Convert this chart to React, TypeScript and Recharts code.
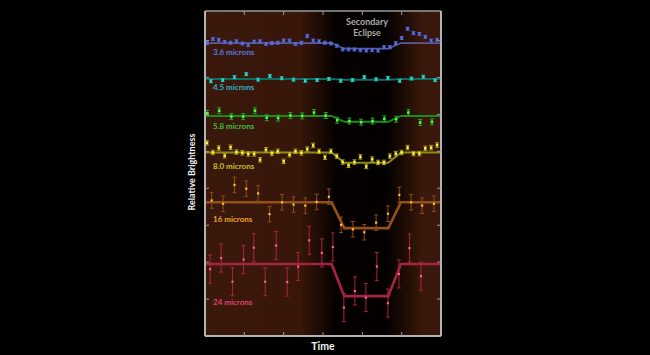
import React from "react";
import { ComposedChart, Line, Scatter, ErrorBar, XAxis, YAxis, CartesianGrid } from "recharts";

// time samples (arbitrary units, 0..6 across the frame)
const T40 = [0.05, 0.2, 0.35, 0.5, 0.65, 0.8, 0.95, 1.1, 1.25, 1.4, 1.55, 1.7, 1.85, 2.0, 2.15, 2.3, 2.45, 2.6, 2.75, 2.9, 3.05, 3.2, 3.35, 3.5, 3.65, 3.8, 3.95, 4.1, 4.25, 4.4, 4.55, 4.7, 4.85, 5.0, 5.15, 5.3, 5.45, 5.6, 5.75, 5.9];
const T45 = [0.15, 0.45, 0.75, 1.05, 1.35, 1.65, 1.95, 2.25, 2.55, 2.85, 3.15, 3.45, 3.75, 4.05, 4.35, 4.65, 4.95, 5.25, 5.55, 5.85];
const T58 = [0.06, 0.36, 0.67, 0.97, 1.27, 1.57, 1.86, 2.17, 2.47, 2.77, 3.07, 3.36, 3.67, 3.97, 4.26, 4.56, 4.86, 5.17, 5.47, 5.77];
const T16 = [0.17, 0.46, 0.75, 1.05, 1.35, 1.64, 1.96, 2.25, 2.55, 2.84, 3.15, 3.46, 3.76, 4.05, 4.35, 4.65, 4.94, 5.24, 5.52, 5.82];
const T24 = [0.13, 0.41, 0.7, 0.98, 1.24, 1.53, 1.81, 2.09, 2.37, 2.65, 2.97, 3.25, 3.53, 3.81, 4.09, 4.37, 4.65, 4.93, 5.2, 5.49];

// relative brightness (offset per band)
const V36 = [7.93, 8.04, 8.02, 7.96, 7.94, 7.98, 7.92, 7.88, 7.97, 7.98, 7.91, 7.93, 7.94, 8.0, 8.0, 7.91, 7.94, 8.12, 8.0, 7.98, 7.94, 7.92, 7.86, 7.76, 7.76, 7.76, 7.74, 7.73, 7.74, 7.73, 7.82, 7.82, 7.93, 8.07, 8.32, 8.2, 8.18, 8.1, 8.0, 8.02];
const V45 = [6.9, 6.93, 7.01, 7.09, 6.94, 7.04, 6.98, 6.94, 6.91, 6.93, 6.96, 6.91, 6.93, 7.01, 6.95, 6.99, 6.91, 6.97, 7.02, 6.93];
const V58 = [6.03, 6.1, 5.94, 5.94, 6.1, 5.91, 5.9, 5.97, 5.96, 6.05, 5.97, 5.84, 5.82, 5.79, 5.82, 5.88, 5.87, 6.05, 5.78, 5.8];
const V80 = [5.23, 4.97, 5.09, 4.88, 5.11, 4.98, 4.96, 4.93, 4.93, 4.77, 5.04, 4.95, 5.0, 4.73, 4.91, 5.0, 4.96, 5.06, 5.16, 5.0, 4.84, 5.0, 4.87, 4.71, 4.62, 4.71, 4.85, 4.59, 4.79, 4.7, 4.7, 4.87, 4.94, 4.97, 5.1, 4.94, 4.94, 5.08, 5.1, 5.17];
const V16 = [3.67, 3.58, 4.09, 3.99, 3.86, 3.3, 3.62, 3.56, 3.53, 3.63, 3.77, 3.01, 2.89, 2.81, 3.07, 3.31, 3.82, 3.62, 3.53, 3.58];
const V24 = [1.81, 2.11, 1.47, 2.07, 2.39, 1.47, 2.45, 1.46, 1.88, 2.59, 2.25, 2.41, 0.77, 1.22, 1.04, 1.88, 0.89, 1.68, 2.38, 1.62];

const ERRORS = [0.04, 0.04, 0.08, 0.06, 0.21, 0.38];
const BASELINES = [7.93, 6.96, 5.96, 4.97, 3.62, 1.95];
const BOTTOMS = [7.78, 6.94, 5.8, 4.69, 2.92, 1.08];
const CONTACTS = [3.22, 3.54, 4.66, 4.98];
const NAMES = ["3.6 microns", "4.5 microns", "5.8 microns", "8.0 microns", "16 microns", "24 microns"];

const TIMES = [T40, T45, T58, T40, T16, T24];
const VALUES = [V36, V45, V58, V80, V16, V24];

const STYLES = [
  { line: "#5c5a92", lw: 1.6, point: "#5670ea", bar: "#4a62d8", label: "#5a78e0", labelY: 52 },
  { line: "#0f6e62", lw: 2, point: "#2ad6c8", bar: "#22b8b0", label: "#33b0c8", labelY: 87 },
  { line: "#1c8a1c", lw: 2, point: "#48ff48", bar: "#2aa02a", label: "#3fc03a", labelY: 126 },
  { line: "#8f8a18", lw: 2, point: "#fff040", bar: "#a8a020", label: "#c8c028", labelY: 166 },
  { line: "#94501a", lw: 2.6, point: "#ffbc30", bar: "#8c4c1c", label: "#eaa428", labelY: 219 },
  { line: "#a62442", lw: 2.6, point: "#ff5c92", bar: "#a8243e", label: "#e2406e", labelY: 302 },
];

const pointShape = (color: string, size: number) => (props: any) => {
  const { cx, cy } = props;
  if (cx == null || cy == null) return <g />;
  return <rect x={cx - size / 2} y={cy - size / 2} width={size} height={size} fill={color} />;
};

const blank = () => "";

export default function App() {
  const models = BASELINES.map((b, i) => [
    { t: 0, v: b },
    { t: CONTACTS[0], v: b },
    { t: CONTACTS[1], v: BOTTOMS[i] },
    { t: CONTACTS[2], v: BOTTOMS[i] },
    { t: CONTACTS[3], v: b },
    { t: 6, v: b },
  ]);
  const points = VALUES.map((vals, i) => vals.map((v, j) => ({ t: TIMES[i][j], v, err: ERRORS[i] })));

  const labelFont = "Lato, 'Open Sans', sans-serif";

  return (
    <div style={{ position: "absolute", left: 0, top: 0, width: 650, height: 355, background: "#000", overflow: "hidden" }}>
      <ComposedChart width={650} height={355} margin={{ top: 11, right: 209, bottom: 19, left: 205 }}>
        <defs>
          <linearGradient id="eclipseBg" x1="0" y1="0" x2="1" y2="0">
            <stop offset="0%" stopColor="#3a180b" />
            <stop offset="40%" stopColor="#38170a" />
            <stop offset="48%" stopColor="#200c05" />
            <stop offset="55%" stopColor="#050100" />
            <stop offset="77%" stopColor="#030100" />
            <stop offset="84%" stopColor="#1c0b04" />
            <stop offset="92%" stopColor="#39180b" />
            <stop offset="100%" stopColor="#3a180b" />
          </linearGradient>
        </defs>
        <CartesianGrid horizontal={false} vertical={false} fill="url(#eclipseBg)" stroke="none" />
        <XAxis
          type="number"
          dataKey="t"
          domain={[0, 6]}
          ticks={[1, 2, 3, 4, 5]}
          allowDataOverflow
          mirror
          tickSize={4}
          tickFormatter={blank}
          axisLine={{ stroke: "#b4b4b4", strokeWidth: 2 }}
          tickLine={{ stroke: "#9a9a9a" }}
        />
        <XAxis
          xAxisId="top"
          orientation="top"
          type="number"
          dataKey="t"
          domain={[0, 6]}
          ticks={[1, 2, 3, 4, 5]}
          allowDataOverflow
          mirror
          tickSize={4}
          tickFormatter={blank}
          axisLine={{ stroke: "#9a9a9a", strokeWidth: 1.5 }}
          tickLine={{ stroke: "#9a9a9a" }}
        />
        <YAxis
          type="number"
          dataKey="v"
          domain={[0, 8.8]}
          ticks={[1, 2, 3, 4, 5, 6, 7, 8]}
          allowDataOverflow
          mirror
          tickSize={4}
          tickFormatter={blank}
          axisLine={{ stroke: "#b4b4b4", strokeWidth: 2 }}
          tickLine={{ stroke: "#9a9a9a" }}
        />
        <YAxis
          yAxisId="right"
          orientation="right"
          type="number"
          dataKey="v"
          domain={[0, 8.8]}
          ticks={[1, 2, 3, 4, 5, 6, 7, 8]}
          allowDataOverflow
          mirror
          tickSize={4}
          tickFormatter={blank}
          axisLine={{ stroke: "#b4b4b4", strokeWidth: 2 }}
          tickLine={{ stroke: "#9a9a9a" }}
        />
        {models.map((m, i) => (
          <Line
            key={"m" + i}
            data={m}
            dataKey="v"
            type="linear"
            stroke={STYLES[i].line}
            strokeWidth={STYLES[i].lw}
            dot={false}
            activeDot={false}
            isAnimationActive={false}
          />
        ))}
        {points.map((p, i) => (
          <Scatter
            key={"p" + i}
            data={p}
            dataKey="v"
            shape={pointShape(STYLES[i].point, i >= 4 ? 2.2 : 2.6)}
            isAnimationActive={false}
          >
            <ErrorBar dataKey="err" direction="y" width={2} stroke={STYLES[i].bar} strokeWidth={1} isAnimationActive={false} />
          </Scatter>
        ))}
      </ComposedChart>

      {NAMES.map((n, i) => (
        <div
          key={n}
          style={{
            position: "absolute",
            left: 213,
            top: STYLES[i].labelY - 5,
            fontFamily: labelFont,
            fontWeight: 700,
            fontSize: 8,
            lineHeight: "10px",
            color: STYLES[i].label,
            whiteSpace: "nowrap",
          }}
        >
          {n}
        </div>
      ))}

      <div
        style={{
          position: "absolute",
          left: 327,
          top: 16,
          width: 80,
          textAlign: "center",
          fontFamily: labelFont,
          fontWeight: 700,
          fontSize: 9,
          lineHeight: "11px",
          color: "#a9a9a9",
        }}
      >
        Secondary
        <br />
        Eclipse
      </div>

      <div
        style={{
          position: "absolute",
          left: 142,
          top: 166,
          width: 100,
          textAlign: "center",
          transform: "rotate(-90deg)",
          fontFamily: labelFont,
          fontWeight: 700,
          fontSize: 9,
          lineHeight: "12px",
          color: "#f2f2f2",
        }}
      >
        Relative Brightness
      </div>

      <div
        style={{
          position: "absolute",
          left: 293,
          top: 340,
          width: 60,
          textAlign: "center",
          fontFamily: labelFont,
          fontWeight: 700,
          fontSize: 10.5,
          lineHeight: "12px",
          color: "#f4f4f4",
        }}
      >
        Time
      </div>
    </div>
  );
}
